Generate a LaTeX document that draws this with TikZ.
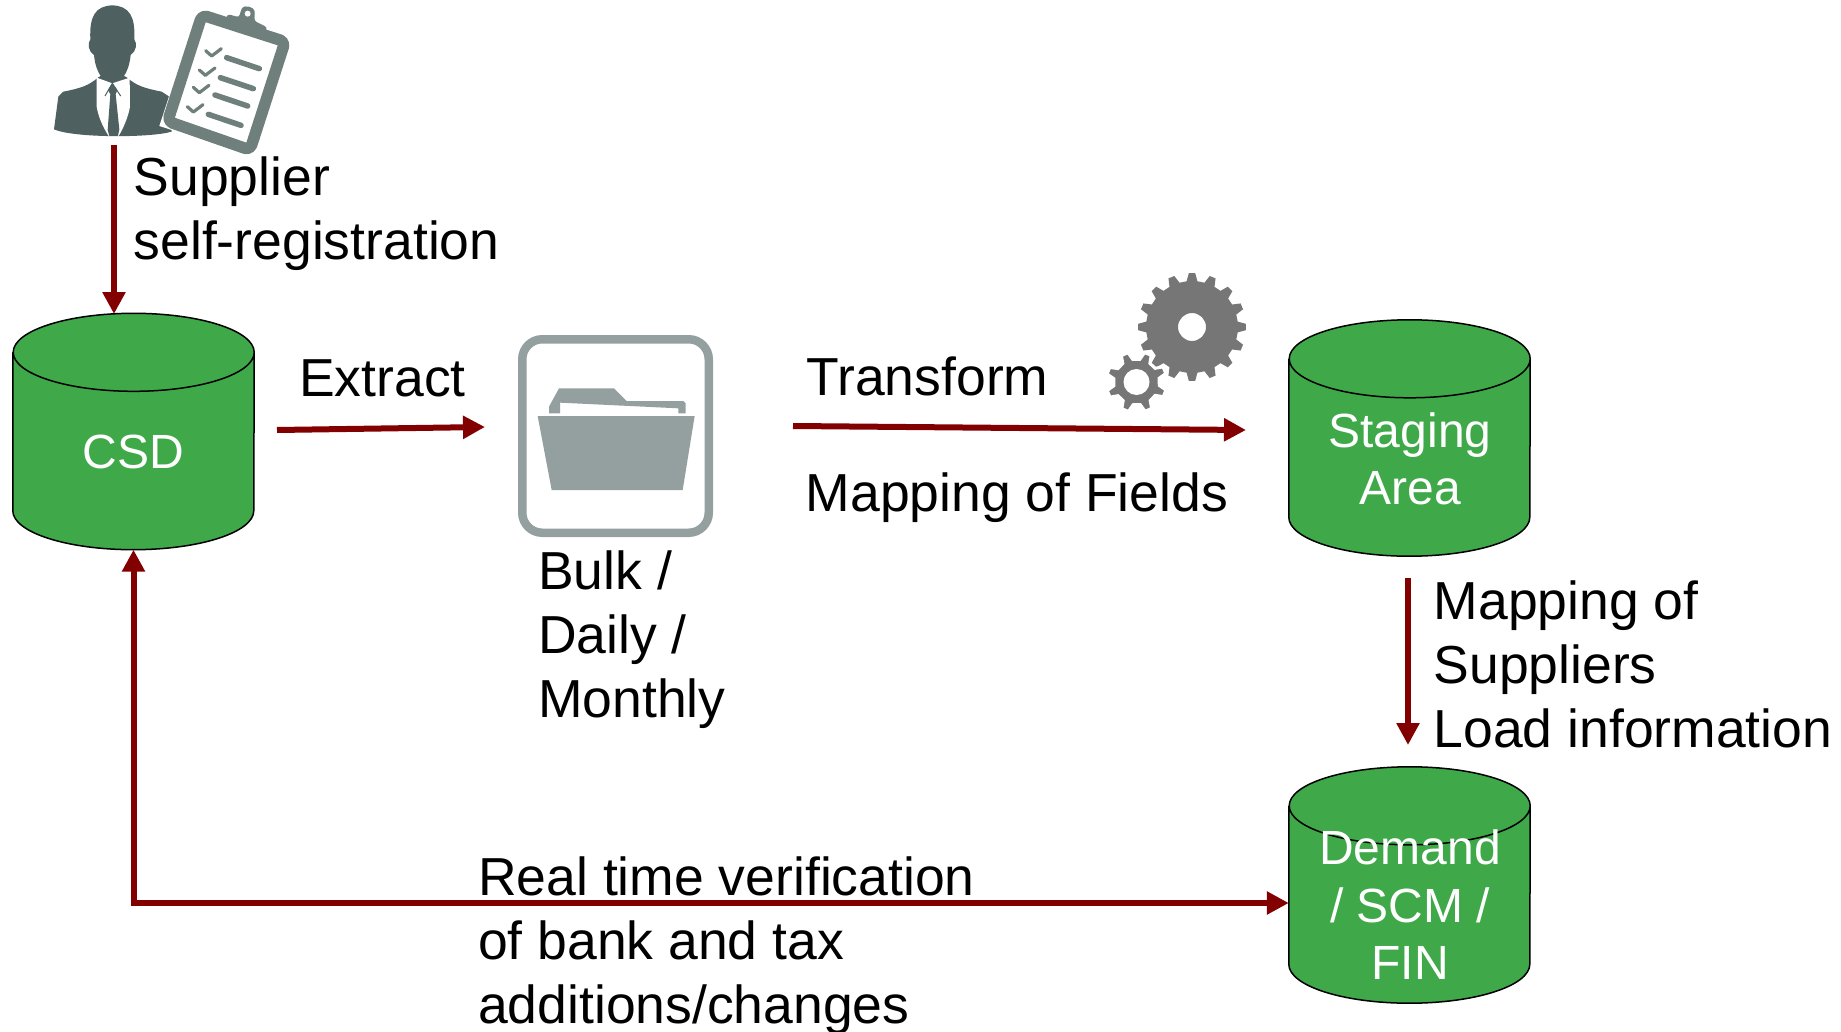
\documentclass[tikz,border=0pt]{standalone}
\usepackage{fontspec}
\setmainfont{Liberation Sans}
\usetikzlibrary{arrows.meta}
\definecolor{dbgreen}{HTML}{3FA94A}
\definecolor{arrowred}{HTML}{820000}
\definecolor{persongray}{HTML}{4F6060}
\definecolor{boardgray}{HTML}{6F7F7C}
\definecolor{foldergray}{HTML}{94A09F}
\definecolor{geargray}{HTML}{767676}
\tikzset{
  x=1pt,y=-1pt,
  dbbody/.style={draw=none,inner sep=0pt,minimum width=241pt,minimum height=236pt},
  dbskin/.style={draw=black,line width=1.5pt,fill=dbgreen},
  dbtext/.style={inner sep=0pt,text=white,align=center,font=\fontsize{48}{57.5}\selectfont},
  label/.style={anchor=north west,inner sep=0pt,align=left,text=black,font=\fontsize{53.5}{64}\selectfont},
  flow/.style={draw=arrowred,line width=6pt,-{Triangle[length=22pt,width=22pt]}},
  flowboth/.style={draw=arrowred,line width=6pt,{Triangle[length=22pt,width=22pt]}-{Triangle[length=22pt,width=22pt]}},
}
\newcommand{\dbdraw}[1]{%
  \path[dbskin] ([yshift=-39pt]#1.north west) -- ([yshift=39pt]#1.south west)
    arc[start angle=180,end angle=360,x radius=120.5pt,y radius=39pt]
    -- ([yshift=-39pt]#1.north east)
    arc[start angle=0,end angle=180,x radius=120.5pt,y radius=39pt]
    arc[start angle=180,end angle=360,x radius=120.5pt,y radius=39pt];
}
\newcommand{\gearshape}[6]{% cx cy outer root teeth phase
  ({#1+#4*cos(#6-0.30*360/#5)},{#2+#4*sin(#6-0.30*360/#5)})
  \foreach \gi in {1,...,#5}{
    -- ({#1+#4*cos(#6+\gi*360/#5-360/#5-0.30*360/#5)},{#2+#4*sin(#6+\gi*360/#5-360/#5-0.30*360/#5)})
    -- ({#1+#3*cos(#6+\gi*360/#5-360/#5-0.15*360/#5)},{#2+#3*sin(#6+\gi*360/#5-360/#5-0.15*360/#5)})
    -- ({#1+#3*cos(#6+\gi*360/#5-360/#5+0.15*360/#5)},{#2+#3*sin(#6+\gi*360/#5-360/#5+0.15*360/#5)})
    -- ({#1+#4*cos(#6+\gi*360/#5-360/#5+0.30*360/#5)},{#2+#4*sin(#6+\gi*360/#5-360/#5+0.30*360/#5)})
  } -- cycle}
\begin{document}
\begin{tikzpicture}
\useasboundingbox (0,0) rectangle (1841,1032);
% person and clipboard
\begin{scope}[shift={(30,0)},scale=1/3]
  \fill[persongray] (247,16) .. controls (195,18) and (178,50) .. (181,118)
    .. controls (172,130) and (175,155) .. (192,165)
    .. controls (195,195) and (203,215) .. (212,228)
    -- (205,232) .. controls (175,258) and (150,265) .. (100,275)
    -- (85,290) -- (72,388) .. controls (130,414) and (360,414) .. (425,395)
    -- (418,290) -- (395,275) .. controls (345,265) and (320,258) .. (290,232)
    -- (282,228) .. controls (291,215) and (299,195) .. (302,165)
    .. controls (319,155) and (322,130) .. (313,118)
    .. controls (316,50) and (299,18) .. (247,16) -- cycle;
  \fill[white] (200,233) -- (247,250) -- (299,233) -- (300,320)
    .. controls (295,350) and (280,385) .. (266,408) -- (236,408)
    .. controls (218,380) and (205,350) .. (200,320) -- cycle;
  \fill[persongray] (247,250) -- (234,270) -- (241,283) -- (233,390) -- (238,408) -- (264,408) -- (268,388) -- (257,283) -- (262,270) -- cycle;
  \draw[persongray,line width=1pt] (247,250) -- (225,288) (247,250) -- (272,288);
  \fill[white] (505,20) -- (790,112) -- (680,472) -- (388,378) -- cycle;
  \draw[boardgray,line width=11.5pt,rounded corners=5pt,line join=round,fill=white] (516,45) -- (765,125) -- (660,450) -- (413,364) -- cycle;
  \fill[boardgray,rounded corners=3pt] (592,42) -- (628,52) -- (632,32) .. controls (642,14) and (672,20) .. (675,42) -- (672,62) -- (712,82) -- (702,118) -- (583,76) -- cycle;
  \fill[white] (653,41) circle (9);
  \begin{scope}[boardgray,line width=5.5pt,line cap=round]
    \draw (590,173) -- (688,206);
    \draw (571,233) -- (670,266);
    \draw (555,285) -- (653,318);
    \draw (535,343) -- (633,376);
  \end{scope}
  \begin{scope}[boardgray,line width=3.2pt,line cap=round,line join=round]
    \draw (527,152) -- (545,168) -- (574,146);
    \draw (508,210) -- (526,226) -- (555,204);
    \draw (490,262) -- (508,278) -- (537,256);
    \draw (472,320) -- (490,336) -- (519,314);
  \end{scope}
\end{scope}
% folder
\node[draw=foldergray,line width=8.5pt,rounded corners=20pt,fill=white,minimum width=186.5pt,minimum height=193.5pt,inner sep=0pt] (folderbox) at (615.5,436) {};
\begin{scope}[shift={(500,320)},scale=1/3]
  \fill[foldergray] (113,288) -- (584,288) -- (548,510) -- (155,510) -- cycle;
  \fill[foldergray] (147,280) -- (147,260) -- (177,205) -- (342,205) -- (380,243) -- (550,243) -- (557,250) -- (557,280) -- (535,280) -- (535,265) -- (180,248) -- (180,280) -- cycle;
\end{scope}
% gears
\fill[geargray,even odd rule] \gearshape{1192}{327}{54}{46}{16}{0} (1206,327) arc[start angle=0,end angle=360,radius=14];
\draw[white,line width=3pt,fill=geargray] \gearshape{1136.5}{382}{30.5}{23}{8}{22};
\fill[white] (1136.5,382) circle (13);
% databases
\node[dbbody] (csd) at (133.5,431.5) {};
\node[dbbody] (staging) at (1409.5,438) {};
\node[dbbody] (demand) at (1409.5,885) {};
\dbdraw{csd}
\dbdraw{staging}
\dbdraw{demand}
\node[dbtext] (csdtext) at (133.5,452) {CSD};
\node[dbtext] (stagingtext) at (1410,459) {Staging\\Area};
\node[dbtext] (demandtext) at (1410,905) {Demand\\/ SCM /\\FIN};
% connector ends
\coordinate (personfoot) at (114,145);
\coordinate (csdtop) at (114,314);
\coordinate (csdout) at (277,430);
\coordinate (folderin) at (485,427);
\coordinate (folderout) at (793,426);
\coordinate (stagingin) at (1246,430);
\coordinate (stagingout) at (1408,578);
\coordinate (demandin) at (1408,745);
% connectors
\draw[flow] (personfoot) -- (csdtop);
\draw[flow] (csdout) -- (folderin);
\draw[flow] (folderout) -- (stagingin);
\draw[flow] (stagingout) -- (demandin);
\draw[flowboth] (csd.south) |- ([yshift=-18pt]demand.west);
% labels
\node[label] (l1) at (133.5,157) {Supplier\\self-registration};
\node[label] (l2) at (299,359) {Extract};
\node[label] (l3) at (806.5,356.5) {Transform};
\node[label] (l4) at (805.5,473) {Mapping of Fields};
\node[label] (l5) at (538,551) {Bulk /\\Daily /\\Monthly};
\node[label] (l6) at (1433.5,580.5) {Mapping of\\Suppliers\\Load information};
\node[label] (l7) at (478,857) {Real time verification\\of bank and tax\\additions/changes};
\end{tikzpicture}
\end{document}
